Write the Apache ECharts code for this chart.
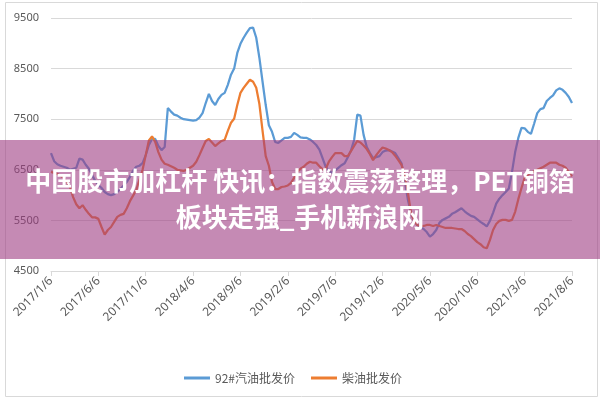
<html lang="zh">
<head>
  <meta charset="UTF-8">
  <title>汽油柴油批发价</title>
  <style>
    html, body { margin: 0; padding: 0; background: #fff; }
    #chart { width: 600px; height: 400px; }
  </style>
</head>
<body>
  <div id="chart"></div>
  <script src="https://cdn.jsdelivr.net/npm/echarts@6/dist/echarts.min.js"></script>
  <script>
    // dates every 10 days: the 6th, 16th, 26th of each month, 2017/1/6 .. 2021/8/6
    var dates = []
    for (var y = 2017; y <= 2021; y++) {
      for (var m = 1; m <= 12; m++) {
        [6, 16, 26].forEach(function (d) {
          if (y === 2021 && (m > 8 || (m === 8 && d > 6))) return
          dates.push(y + '/' + m + '/' + d)
        })
      }
    }

    var yTicks = [4500, 5500, 6500, 7500, 8500, 9500]

    var gasoline92 = [
      6830, 6670, 6610, 6580, 6560, 6540, 6500, 6520, 6540, 6720,
      6700, 6600, 6520, 6400, 6280, 6200, 6140, 6060, 6020, 6000,
      6020, 6060, 6120, 6190, 6260, 6360, 6480, 6560, 6580, 6630,
      6790, 6990, 7110, 7110, 6970, 6890, 6950, 7720, 7650, 7590,
      7570, 7530, 7500, 7490, 7480, 7470, 7480, 7530, 7620, 7820,
      8000, 7860, 7780, 7900, 7980, 8020, 8180, 8380, 8500, 8810,
      8990, 9110, 9210, 9300, 9310, 9110, 8710, 8240, 7780, 7380,
      7250, 7050, 7030, 7080, 7130, 7130, 7150, 7230, 7190, 7140,
      7130, 7130, 7100, 7050, 6990, 6900, 6730, 6560, 6480, 6440,
      6490, 6540, 6590, 6630, 6750, 6880, 7090, 7590, 7570, 7190,
      6950, 6830, 6730, 6750, 6770, 6850, 6880, 6890, 6860, 6830,
      6730, 6630, 6300, 5920, 5640, 5490, 5410, 5370, 5330, 5270,
      5180, 5230, 5310, 5450, 5510, 5540, 5570, 5630, 5660, 5700,
      5740, 5680, 5630, 5590, 5570, 5520, 5470, 5430, 5380, 5490,
      5650, 5830, 5930, 6000, 6060, 6130, 6460, 6850, 7130, 7330,
      7320, 7250, 7210, 7410, 7620, 7700, 7720, 7860, 7920, 7970,
      8070, 8110, 8080, 8020, 7940, 7820
    ]

    var diesel = [
      6460, 6440, 6420, 6380, 6340, 6260, 6160, 5960, 5820, 5740,
      5800, 5710, 5630, 5560, 5560, 5530, 5370, 5220, 5310, 5370,
      5470, 5570, 5610, 5630, 5740, 5880, 5990, 6100, 6300, 6500,
      6790, 7080, 7160, 7050, 6850, 6700, 6620, 6600, 6570, 6540,
      6500, 6490, 6480, 6500, 6540, 6580, 6660, 6790, 6930, 7070,
      7110, 7040, 6970, 7020, 7070, 7090, 7270, 7430, 7510, 7780,
      8020, 8120, 8200, 8280, 8240, 8120, 7800, 7270, 6770, 6580,
      6260, 6120, 6120, 6160, 6170, 6190, 6240, 6340, 6460, 6520,
      6560, 6620, 6660, 6640, 6640, 6570, 6510, 6520, 6660, 6750,
      6830, 6830, 6830, 6770, 6770, 6870, 6970, 7070, 7040, 6980,
      6910, 6810, 6690, 6790, 6870, 6940, 6920, 6890, 6850, 6780,
      6690, 6600, 6400, 6060, 5660, 5490, 5410, 5390, 5390, 5410,
      5410, 5390, 5410, 5390, 5370, 5350, 5350, 5350, 5340, 5330,
      5330, 5290, 5230, 5190, 5130, 5070, 5030, 4970, 4950, 5110,
      5310, 5430, 5490, 5510, 5510, 5490, 5510, 5670, 5920, 6140,
      6340, 6400, 6440, 6470, 6500, 6530, 6560, 6600, 6640, 6640,
      6640, 6600, 6580, 6540, 6460, 6370
    ]

    var seriesNames = ['92#汽油批发价', '柴油批发价']
    var headline = '中国股市加杠杆 快讯：指数震荡整理，PET铜箔\n板块走强_手机新浪网'

    var labelColor = '#595959'
    var gridColor = '#d9d9d9'

    var option = {
      animation: false,
      color: ['#5B9BD5', '#ED7D31'],
      grid: {
        left: 51,
        right: 28,
        top: 18,
        bottom: 129
      },
      legend: {
        data: seriesNames,
        top: 367,
        left: 179,
        icon: 'rect',
        itemWidth: 26,
        itemHeight: 3,
        itemGap: 16,
        textStyle: {
          color: labelColor,
          fontSize: 12,
          fontFamily: 'Noto Sans CJK SC'
        }
      },
      xAxis: {
        type: 'category',
        data: dates,
        boundaryGap: false,
        axisLine: {
          lineStyle: { color: gridColor }
        },
        axisTick: {
          interval: 14,
          length: 5,
          lineStyle: { color: gridColor }
        },
        axisLabel: {
          interval: 14,
          rotate: 45,
          margin: 8,
          color: labelColor,
          fontSize: 12,
          fontFamily: 'Noto Sans'
        },
        splitLine: { show: false }
      },
      yAxis: {
        type: 'value',
        min: yTicks[0],
        max: yTicks[yTicks.length - 1],
        interval: 1000,
        axisLine: { show: false },
        axisTick: { show: false },
        axisLabel: {
          margin: 12,
          color: labelColor,
          fontSize: 11,
          fontFamily: 'Noto Sans',
          formatter: function (v) { return String(v) }
        },
        splitLine: {
          lineStyle: { color: gridColor, width: 1 }
        }
      },
      series: [
        {
          name: seriesNames[0],
          type: 'line',
          data: gasoline92,
          showSymbol: false,
          lineStyle: { width: 2.25 }
        },
        {
          name: seriesNames[1],
          type: 'line',
          data: diesel,
          showSymbol: false,
          lineStyle: { width: 2.25 }
        }
      ],
      graphic: [
        {
          type: 'rect',
          z: 0,
          silent: true,
          shape: { x: 5.5, y: 2.5, width: 592, height: 394 },
          style: { fill: 'none', stroke: gridColor, lineWidth: 1 }
        },
        {
          type: 'rect',
          z: 100,
          silent: true,
          shape: { x: 0, y: 140, width: 600, height: 119 },
          style: { fill: 'rgba(158, 60, 130, 0.6)' }
        },
        {
          type: 'text',
          z: 101,
          silent: true,
          x: 300,
          y: 199,
          style: {
            text: headline,
            fill: '#fff',
            font: 'bold 26px "Noto Sans CJK SC"',
            lineHeight: 36,
            align: 'center',
            verticalAlign: 'middle'
          }
        }
      ]
    }

    var chart = echarts.init(document.getElementById('chart'))
    chart.setOption(option)
  </script>
</body>
</html>
